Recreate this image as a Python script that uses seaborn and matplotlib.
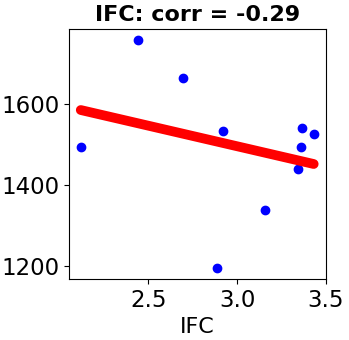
import numpy as np
import pandas as pd
import matplotlib
matplotlib.use('Agg')
import matplotlib.pyplot as plt
import seaborn as sns

# values
ifc = [2.119, 2.439, 2.694, 2.921, 2.887, 3.159, 3.342, 3.363, 3.357, 3.431]
score = [1495, 1758, 1665, 1534, 1195, 1337, 1439, 1542, 1494, 1527]

df = pd.DataFrame({'IFC': ifc, 'score': score})
corr = np.corrcoef(df['IFC'], df['score'])[0, 1]

fig = plt.figure(figsize=(3.49, 3.40), dpi=100)
ax = fig.add_axes([0.198, 0.179, 0.736, 0.736])
sns.regplot(data=df, x='IFC', y='score', ci=None, ax=ax,
            scatter_kws={'color': 'blue', 's': 36, 'alpha': 1},
            line_kws={'color': 'red', 'linewidth': 7, 'solid_capstyle': 'round'})

ax.set_title(f'IFC: corr = {corr:.2f}', fontsize=16, fontweight='bold')
ax.set_xlabel('IFC', fontsize=16)
ax.set_ylabel('')
ax.set_xticks([2.5, 3.0, 3.5])
ax.set_yticks([1200, 1400, 1600])
ax.tick_params(labelsize=16.5)

fig.savefig('out.png', dpi=100)
